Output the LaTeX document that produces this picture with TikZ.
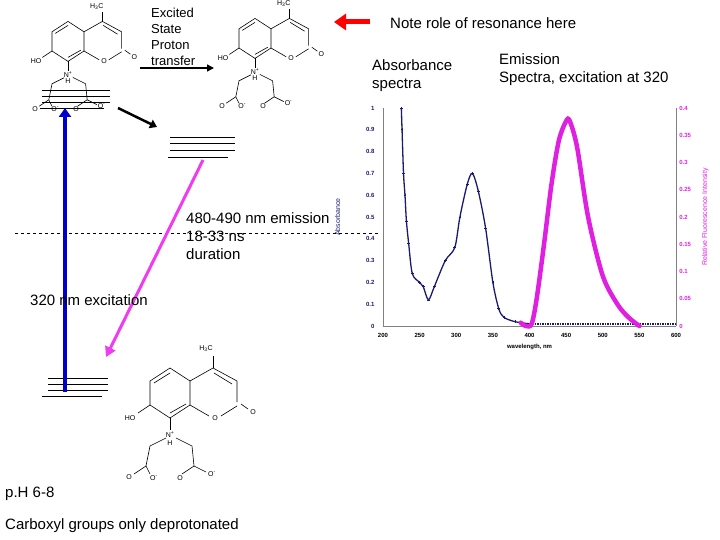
\documentclass[tikz,border=0pt]{standalone}
\usepackage{fontspec}
\setmainfont{Liberation Sans}
\usetikzlibrary{arrows.meta}
\definecolor{navy}{HTML}{1A1A6E}
\definecolor{pinkish}{HTML}{F03CF0}
\definecolor{fluor}{HTML}{E020E0}

% one coumarin skeleton, drawn at the shift and scale given
\newcommand{\coumarin}[2]{%
  \begin{scope}[shift={#1},scale=#2,bond]
    \draw (150,381) -- (170,368) -- (190,381) -- (190,405) -- (170,418) -- (150,405) -- cycle;
    \draw (154,383) -- (170,373);
    \draw (190,381) -- (213,368) -- (237,381) -- (237,402);
    \draw (232,384) -- (214,373);
    \draw (237,406) -- (221,416);
    \draw (209,416) -- (190,405);
    \draw (186,404) -- (170,413);
    \draw (241,404) -- (248,409);
    \draw (213,368) -- (213,356);
    \draw (150,405) -- (138,413);
    \draw (170,418) -- (170,430);
    \draw (166,438) -- (150,446) -- (146,466) -- (134,474);
    \draw (146,466) -- (150,474);
    \draw (176,438) -- (192,446) -- (194,466) -- (182,474);
    \draw (194,466) -- (206,472);
    \node[atom] at (215,418) {O};
    \node[atom] at (253,412) {O};
    \node[atom] at (206,349) {H\textsubscript{3}C};
    \node[atom] at (130,418) {HO};
    \node[atom] at (170,435) {N\textsuperscript{+}};
    \node[atom] at (170,443) {H};
    \node[atom] at (129,477) {O};
    \node[atom] at (154,478) {O\textsuperscript{-}};
    \node[atom] at (180,478) {O};
    \node[atom] at (212,474) {O\textsuperscript{-}};
  \end{scope}}

\tikzset{
  bond/.style={black,line width=0.6pt},
  atom/.style={font=\fontsize{7}{8}\selectfont,inner sep=0pt,fill=white},
  level/.style={black,line width=0.9pt},
  txt/.style={font=\fontsize{15}{18}\selectfont,anchor=west,inner sep=0pt},
  small/.style={font=\fontsize{13}{16}\selectfont,align=left,inner sep=0pt},
  tick/.style={font=\bfseries\fontsize{6}{7}\selectfont,inner sep=1pt}
}

\begin{document}
\begin{tikzpicture}[x=1pt,y=-1pt]
  \useasboundingbox (0,0) rectangle (720,540);

  % molecules
  \coumarin{(0,0)}{1}
  \coumarin{(-68,-273)}{0.8}
  \coumarin{(119,-276)}{0.8}

  % energy levels
  \foreach \y in {90,96,102} \draw[level] (42,\y) -- (110,\y);
  \draw[level] (40,108) -- (104,108);
  \foreach \y in {137,143,150} \draw[level] (170,\y) -- (235,\y);
  \draw[level] (168,157) -- (228,157);
  \foreach \y in {378,384,390} \draw[level] (48,\y) -- (108,\y);
  \draw[level] (42,396) -- (102,396);
  \draw[dashed,black] (15,233) -- (380,233);

  % transitions
  \coordinate (g0) at (65,392);
  \coordinate (s1) at (65,108);
  \coordinate (t0) at (118,108);
  \coordinate (t1) at (157,127);
  \coordinate (e0) at (203,160);
  \coordinate (e1) at (106,357);
  \coordinate (p0) at (140,68);
  \coordinate (p1) at (214,68);
  \coordinate (r0) at (370,22);
  \coordinate (r1) at (334,22);
  \draw[blue!80!black,line width=4pt,-{Triangle[length=9pt,width=12pt]}] (g0) -- (s1);
  \draw[black,line width=2.5pt,-{Triangle[length=7pt,width=9pt]}] (t0) -- (t1);
  \draw[pinkish,line width=3pt,-{Triangle[length=10pt,width=11pt]}] (e0) -- (e1);
  \draw[black,line width=1.5pt,-{Triangle[length=7pt,width=7pt]}] (p0) -- (p1);
  \draw[red,line width=5pt,-{Triangle[length=12pt,width=16pt]}] (r0) -- (r1);

  % texts
  \node[small,anchor=north west] (espt) at (151,8) {Excited\\State\\Proton\\transfer};
  \node[txt] (note) at (390,23) {Note role of resonance here};
  \node[txt,align=left,anchor=north west] (abs) at (372,59) {Absorbance\\spectra};
  \node[txt,align=left,anchor=north west] (emi) at (499,53) {Emission\\Spectra, excitation at 320};
  \node[txt,align=left,anchor=north west] (emis) at (186,212) {480-490 nm emission\\18-33 ns\\duration};
  \node[txt] (exc) at (30,300) {320 nm excitation};
  \node[txt] (ph) at (5,494) {p.H 6-8};
  \node[txt] (carb) at (5,526) {Carboxyl groups only deprotonated};

  % spectra
  \begin{scope}[xshift=383pt,yshift=-326pt,x=0.7325pt,y=218pt]
    \draw[gray,line width=0.8pt] (0,0) -- (400,0);
    \draw[gray,line width=0.8pt] (0,0) -- (0,1);
    \draw[gray,line width=0.8pt] (400,0) -- (400,1);
    \foreach \a [count=\k from 0] in {0,0.1,0.2,0.3,0.4,0.5,0.6,0.7,0.8,0.9,1}
      \node[tick,navy,anchor=east] at (-10,\k*0.1) {\a};
    \foreach \i [count=\k from 0] in {0,0.05,0.1,0.15,0.2,0.25,0.3,0.35,0.4}
      \node[tick,fluor,anchor=west] at (403,\k*0.125) {\i};
    \foreach \w in {200,250,...,600}
      \node[tick,black,anchor=north] at (\w-200,-0.03) {\w};
    \node[tick,black,anchor=north] at (200,-0.08) {wavelength, nm};
    \node[tick,navy,rotate=90,font=\fontsize{7}{8}\selectfont] at (-62,0.5) {Absorbance};
    \node[tick,fluor,rotate=90,font=\fontsize{7}{8}\selectfont] at (440,0.5) {Relative Fluorescence Intensity};
    \draw[navy,line width=1.3pt] plot[smooth,mark=+,mark size=1.3pt,mark options={line width=0.6pt}] coordinates {
      (25,1) (26,0.9) (28,0.7) (30,0.6) (32,0.48) (35,0.38) (40,0.24) (50,0.2)
      (55,0.18) (62,0.12) (70,0.18) (85,0.3) (98,0.36) (105,0.5) (115,0.65)
      (122,0.70) (130,0.62) (140,0.45) (150,0.2) (158,0.08) (165,0.04) (180,0.02) (200,0.01)};
    \draw[navy,line width=1.5pt,densely dotted] (200,0.01) -- (400,0.01);
    \draw[fluor,line width=4.5pt,line cap=round] plot[smooth] coordinates {
      (188,0.015) (195,0) (203,0.01) (210,0.13) (220,0.38) (230,0.65) (240,0.85)
      (250,0.94) (255,0.94) (265,0.82) (280,0.5) (300,0.23) (320,0.1) (335,0.04) (350,0)};
  \end{scope}
\end{tikzpicture}
\end{document}
